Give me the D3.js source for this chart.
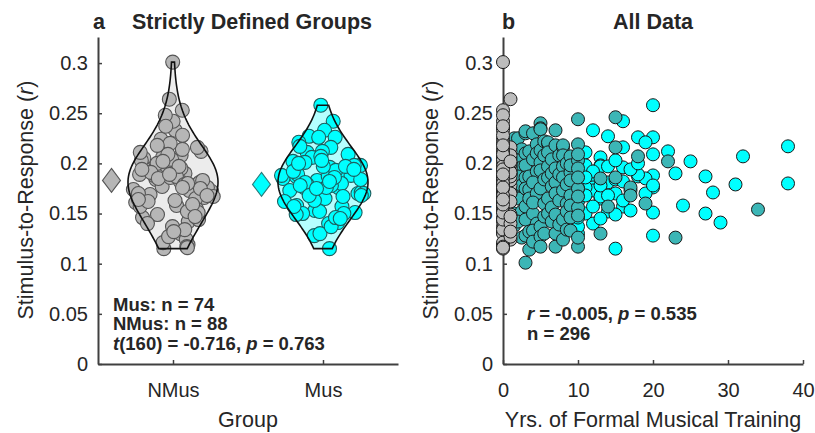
<!DOCTYPE html>
<html>
<head>
<meta charset="utf-8">
<script src="https://cdn.jsdelivr.net/npm/d3@7"></script>
<style>
body { margin: 0; background: #fff; }
svg text { font-family: "Liberation Sans", Arial, sans-serif; fill: #262626; }
</style>
</head>
<body>
<div id="chart"></div>
<script>
// data
var groupNames = ["NMus", "Mus"];
var groupMeans = [0.183, 0.179];

var nmusR = [0.184, 0.212, 0.158, 0.199, 0.171, 0.301, 0.146, 0.190, 0.224, 0.166,
    0.137, 0.205, 0.178, 0.193, 0.119, 0.182, 0.264, 0.155, 0.201, 0.174,
    0.130, 0.188, 0.216, 0.163, 0.196, 0.142, 0.177, 0.253, 0.208, 0.169,
    0.124, 0.186, 0.203, 0.152, 0.192, 0.172, 0.233, 0.115, 0.181, 0.198,
    0.161, 0.214, 0.149, 0.176, 0.242, 0.189, 0.134, 0.206, 0.167, 0.195,
    0.121, 0.183, 0.220, 0.157, 0.173, 0.200, 0.144, 0.187, 0.248, 0.165,
    0.127, 0.211, 0.179, 0.191, 0.151, 0.204, 0.170, 0.228, 0.185, 0.117,
    0.197, 0.162, 0.175, 0.209, 0.140, 0.180, 0.237, 0.168, 0.132, 0.194,
    0.159, 0.202, 0.116, 0.176, 0.218, 0.147, 0.189, 0.164];
var nmusYrs = [0,1,0,0,1,0,0,1,0,0, 0,1,1,0,0,0,1,0,1,0, 0,0,1,0,1,0,0,0,1,0,
    1,0,0,0,1,0,0,0,0,1, 0,0,1,0,0,1,0,0,0,1, 0,1,0,0,0,1,0,1,0,0,
    1,0,0,1,0,0,1,0,0,0, 0,1,0,0,1,0,0,0,1,0, 0,1,0,0,0,1,0,0];

var musR = [0.258, 0.242, 0.233, 0.227, 0.226, 0.226, 0.221, 0.216, 0.211, 0.209,
    0.212, 0.202, 0.190, 0.206, 0.198, 0.196, 0.187, 0.188, 0.183, 0.185,
    0.176, 0.176, 0.170, 0.165, 0.158, 0.157, 0.153, 0.151, 0.140, 0.128,
    0.115, 0.207, 0.217, 0.180, 0.179, 0.171, 0.187, 0.150, 0.141, 0.130,
    0.188, 0.193, 0.201, 0.198, 0.197, 0.173, 0.167, 0.173, 0.170, 0.178,
    0.189, 0.150, 0.152, 0.149, 0.137, 0.181, 0.184, 0.176, 0.192, 0.197,
    0.163, 0.162, 0.186, 0.178, 0.194, 0.203, 0.157, 0.146, 0.168, 0.168,
    0.182, 0.200, 0.145, 0.175];
var musYrs = [20, 16, 12, 14, 18, 20, 19, 16, 11, 20,
    22, 25, 23, 13, 13, 16, 18, 20, 12, 19,
    20, 12, 15, 13, 24, 16, 17, 20, 12, 20,
    15, 32, 38, 38, 31, 28, 27, 27, 29, 10,
    10, 10, 10, 11, 13, 12, 13, 17, 19, 20,
    18, 11, 14, 15, 10, 14, 15, 11, 12, 14,
    16, 10, 11, 13, 17, 15, 12, 10, 14, 11,
    16, 18, 13, 10];

var otherR = [0.236, 0.131, 0.205, 0.160,
    0.225, 0.205, 0.190, 0.170, 0.150, 0.138,
    0.225, 0.214, 0.203, 0.196, 0.187, 0.178, 0.165, 0.152, 0.142, 0.126,
    0.230, 0.232, 0.210, 0.198, 0.186, 0.175, 0.157, 0.144, 0.128, 0.101, 0.212, 0.187, 0.174, 0.132, 0.114, 0.165,
    0.230, 0.150, 0.219, 0.204, 0.192, 0.181, 0.170, 0.161, 0.140, 0.133, 0.210, 0.122,
    0.240, 0.235, 0.234, 0.213, 0.201, 0.193, 0.175, 0.137, 0.127, 0.117, 0.130, 0.184, 0.160, 0.147, 0.222, 0.208,
    0.220, 0.221, 0.211, 0.197, 0.186, 0.165, 0.150, 0.177, 0.156, 0.142, 0.204, 0.190,
    0.233, 0.149, 0.117, 0.130, 0.218, 0.195, 0.181, 0.170, 0.163, 0.139, 0.208, 0.189,
    0.216, 0.218, 0.208, 0.197, 0.186, 0.173, 0.144, 0.124, 0.160, 0.200, 0.179, 0.152, 0.134,
    0.207, 0.191, 0.183, 0.168, 0.158, 0.146, 0.133, 0.198,
    0.244, 0.219, 0.203, 0.195, 0.175, 0.156, 0.117, 0.186, 0.167, 0.148, 0.126, 0.209,
    0.185, 0.130, 0.157, 0.246, 0.216, 0.186, 0.176, 0.168, 0.207, 0.160, 0.202, 0.126, 0.154];
var otherYrs = [0, 0, 0, 0,
    1.5, 1.5, 1.5, 1.5, 1.5, 1.5,
    2, 2.5, 2, 2.5, 2, 2.5, 2, 2.5, 2, 2.5,
    3, 3, 3, 3, 3, 3, 3, 3, 3, 3, 3.5, 3.5, 3.5, 3.5, 3.5, 3.5,
    4, 4, 4.5, 4, 4.5, 4, 4.5, 4, 4.5, 4, 4.5, 4,
    5, 5, 5, 5, 5, 5, 5, 5, 5, 5, 5.5, 5.5, 5.5, 5.5, 5.5, 5.5,
    6, 6, 6, 6, 6, 6, 6, 6.5, 6.5, 6.5, 6.5, 6.5,
    7, 7, 7, 7, 7, 7, 7, 7, 7.5, 7.5, 7.5, 7.5,
    8, 8, 8, 8, 8, 8, 8, 8, 8.5, 8.5, 8.5, 8.5, 8.5,
    9, 9, 9, 9, 9, 9, 9, 9,
    10, 10, 10, 10, 10, 10, 10, 10, 10, 10, 10, 10,
    13, 13, 14, 15, 15, 15, 17, 17, 18, 19, 22, 23, 34];

var yTicks = [0, 0.05, 0.1, 0.15, 0.2, 0.25, 0.3];
var xTicksB = [0, 10, 20, 30, 40];

var width = 815, height = 433;
var axisColor = "#404040";

var svg = d3.select("#chart").append("svg")
    .attr("width", width)
    .attr("height", height);

var yA = d3.scaleLinear().domain([0, 0.326]).range([364, 37]);
var xA = d3.scaleLinear().domain([0.5, 2.5]).range([98, 398]);
var xB = d3.scaleLinear().domain([0, 40]).range([503, 803]);

function styleAxis(g) {
    g.select(".domain").attr("stroke", axisColor).attr("stroke-width", 2);
    g.selectAll(".tick line").attr("stroke", axisColor).attr("stroke-width", 1.5);
    g.selectAll(".tick text").attr("fill", "#262626")
        .style("font-size", "20px");
}

function yAxis(x0) {
    var g = svg.append("g").attr("transform", "translate(" + x0 + ",0)")
        .call(d3.axisLeft(yA).tickValues(yTicks).tickFormat(function(d) { return String(d); })
            .tickSize(-4).tickSizeOuter(0).tickPadding(10));
    styleAxis(g);
}

function xAxis(scale, vals, fmt) {
    var g = svg.append("g").attr("transform", "translate(0,364)")
        .call(d3.axisBottom(scale).tickValues(vals).tickFormat(fmt)
            .tickSize(-4).tickSizeOuter(0));
    styleAxis(g);
    g.selectAll(".tick text").attr("y", 33).attr("dy", null);
}

// ---------- panel a : violins ----------
yAxis(98);
xAxis(xA, [1, 2], function(d) { return groupNames[d - 1]; });

var bw = 0.025;
function density(vals, y) {
    return d3.sum(vals, function(v) { return Math.exp(-0.5 * Math.pow((y - v) / bw, 2)); });
}

function violin(vals, pos, lightFill, ptFill, ptStroke, dFill, dStroke, mean) {
    var lo = d3.min(vals), hi = d3.max(vals);
    var ys = d3.range(0, 81).map(function(k) { return lo + (hi - lo) * k / 80; });
    var dens = ys.map(function(y) { return density(vals, y); });
    var maxD = d3.max(dens);
    var right = ys.map(function(y, k) { return [xA(pos + 0.3 * dens[k] / maxD), yA(y)]; });
    var left = ys.map(function(y, k) { return [xA(pos - 0.3 * dens[k] / maxD), yA(y)]; }).reverse();
    var outline = d3.line()(right.concat(left)) + "Z";

    svg.append("path").attr("d", outline).attr("fill", lightFill).attr("stroke", "none");

    svg.append("g").selectAll("circle")
        .data(vals)
        .enter()
        .append("circle")
        .attr("cx", function(d, i) {
            var jit = ((i * 0.6180339887 + 0.31) % 1) * 2 - 1;
            return xA(pos + jit * 0.3 * density(vals, d) / maxD);
        })
        .attr("cy", function(d) { return yA(d); })
        .attr("r", 7)
        .attr("fill", ptFill)
        .attr("stroke", ptStroke)
        .attr("stroke-width", 1.1);

    svg.append("path").attr("d", outline).attr("fill", "none")
        .attr("stroke", "#111").attr("stroke-width", 1.6);

    svg.append("path")
        .attr("d", "M0,-12L9,0L0,12L-9,0Z")
        .attr("transform", "translate(" + xA(pos - 0.41) + "," + yA(mean) + ")")
        .attr("fill", dFill)
        .attr("stroke", dStroke)
        .attr("stroke-width", 1.1);
}

violin(nmusR, 1, "#ececec", "#b6b6b6", "#555", "#b6b6b6", "#555", groupMeans[0]);
violin(musR, 2, "#b5ffff", "#00ffff", "#1d5f5f", "#00ffff", "#2a7a7a", groupMeans[1]);

// ---------- panel b : scatter ----------
yAxis(503);
xAxis(xB, xTicksB, function(d) { return String(d); });

function scatter(rs, yrs, fill) {
    svg.append("g").selectAll("circle")
        .data(rs)
        .enter()
        .append("circle")
        .attr("cx", function(d, i) { return xB(yrs[i]); })
        .attr("cy", function(d) { return yA(d); })
        .attr("r", 6.5)
        .attr("fill", fill)
        .attr("stroke", "#1a1a1a")
        .attr("stroke-width", 1);
}
scatter(musR, musYrs, "#00ffff");
scatter(otherR, otherYrs, "#3cb6b6");
scatter(nmusR, nmusYrs, "#bcbcbc");

// ---------- titles and labels ----------
function title(x, txt, anchor) {
    svg.append("text").attr("x", x).attr("y", 29)
        .attr("text-anchor", anchor)
        .style("font-size", "21.5px").style("font-weight", "bold")
        .attr("fill", "#000")
        .text(txt);
}
title(93, "a", "start");
title(252, "Strictly Defined Groups", "middle");
title(502, "b", "start");
title(653, "All Data", "middle");

function ylabel(x) {
    var t = svg.append("text")
        .attr("transform", "translate(" + x + ",200) rotate(-90)")
        .attr("text-anchor", "middle")
        .style("font-size", "21.5px");
    t.append("tspan").text("Stimulus-to-Response (");
    t.append("tspan").style("font-style", "italic").text("r");
    t.append("tspan").text(")");
}
ylabel(33);
ylabel(438);

function xlabel(x, txt) {
    svg.append("text").attr("x", x).attr("y", 427)
        .attr("text-anchor", "middle")
        .style("font-size", "21.5px")
        .text(txt);
}
xlabel(248, "Group");
xlabel(653, "Yrs. of Formal Musical Training");

// annotations
function note(x, y, parts) {
    var t = svg.append("text").attr("x", x).attr("y", y)
        .style("font-size", "18.5px").style("font-weight", "bold").attr("fill", "#000");
    parts.forEach(function(p) {
        t.append("tspan").style("font-style", p[1] ? "italic" : "normal").text(p[0]);
    });
}
note(113, 311, [["Mus: n = 74"]]);
note(113, 330, [["NMus: n = 88"]]);
note(113, 350, [["t", 1], ["(160) = -0.716, "], ["p", 1], [" = 0.763"]]);
note(527, 320, [["r", 1], [" = -0.005, "], ["p", 1], [" = 0.535"]]);
note(527, 340, [["n = 296"]]);
</script>
</body>
</html>
